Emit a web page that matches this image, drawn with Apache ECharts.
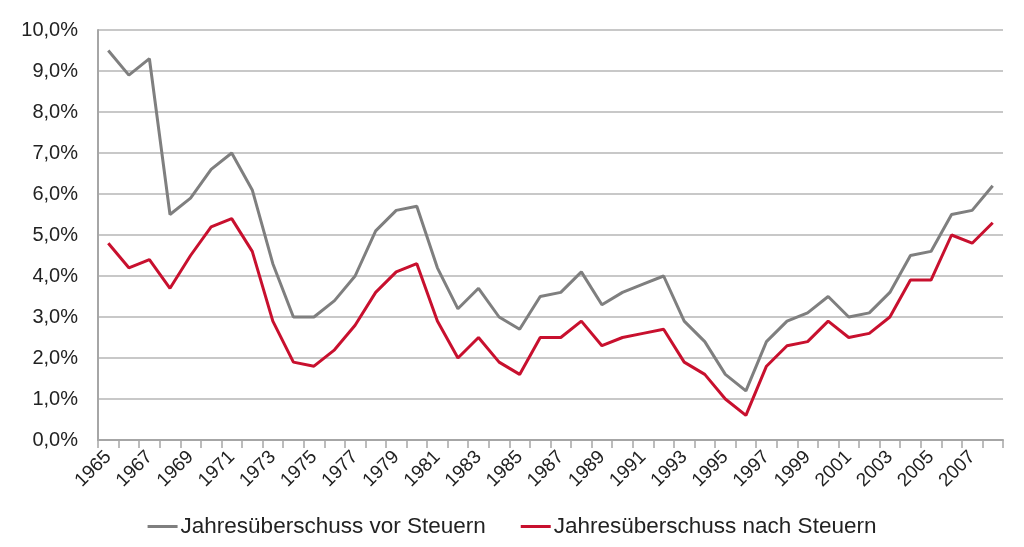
<!DOCTYPE html>
<html>
<head>
<meta charset="utf-8">
<script src="https://cdn.jsdelivr.net/npm/echarts@6/dist/echarts.min.js"></script>
<style>
  html, body { margin: 0; padding: 0; background: #fff; }
  #chart { width: 1024px; height: 547px; }
</style>
</head>
<body>
<div id="chart"></div>
<script>
const years = [];
for (let y = 1965; y <= 2008; y++) years.push(String(y));

const vorSteuern = [9.5, 8.9, 9.3, 5.5, 5.9, 6.6, 7.0, 6.1, 4.3, 3.0, 3.0, 3.4, 4.0, 5.1, 5.6, 5.7, 4.2, 3.2, 3.7, 3.0,
  2.7, 3.5, 3.6, 4.1, 3.3, 3.6, 3.8, 4.0, 2.9, 2.4, 1.6, 1.2, 2.4, 2.9, 3.1, 3.5, 3.0, 3.1, 3.6, 4.5, 4.6, 5.5, 5.6, 6.2];
const nachSteuern = [4.8, 4.2, 4.4, 3.7, 4.5, 5.2, 5.4, 4.6, 2.9, 1.9, 1.8, 2.2, 2.8, 3.6, 4.1, 4.3, 2.9, 2.0, 2.5, 1.9,
  1.6, 2.5, 2.5, 2.9, 2.3, 2.5, 2.6, 2.7, 1.9, 1.6, 1.0, 0.6, 1.8, 2.3, 2.4, 2.9, 2.5, 2.6, 3.0, 3.9, 3.9, 5.0, 4.8, 5.3];

const seriesNames = ['Jahresüberschuss vor Steuern', 'Jahresüberschuss nach Steuern'];

const font = 'Liberation Sans, Arial, sans-serif';
const chart = echarts.init(document.getElementById('chart'));

chart.setOption({
  animation: false,
  backgroundColor: '#fff',
  grid: { left: 98, right: 21, top: 30, bottom: 107 },
  legend: {
    bottom: 4,
    left: 'center',
    itemWidth: 30,
    itemHeight: 3,
    itemGap: 35,
    icon: 'rect',
    textStyle: { fontFamily: font, fontSize: 22.5, color: '#222', padding: [0, 0, 0, -2] },
    data: seriesNames
  },
  xAxis: {
    type: 'category',
    data: years,
    boundaryGap: true,
    axisLine: { lineStyle: { color: '#a6a6a6', width: 2 } },
    axisTick: { show: true, interval: 0, length: 8, lineStyle: { color: '#a6a6a6', width: 1.5 } },
    axisLabel: {
      interval: 1,
      rotate: 45,
      margin: 14,
      fontFamily: font,
      fontSize: 19,
      color: '#222'
    }
  },
  yAxis: {
    type: 'value',
    min: 0,
    max: 10,
    interval: 1,
    axisLine: { show: true, lineStyle: { color: '#a6a6a6', width: 2 } },
    axisTick: { show: false },
    splitLine: { lineStyle: { color: '#c8c8c8', width: 2 } },
    axisLabel: {
      margin: 20,
      fontFamily: font,
      fontSize: 20,
      color: '#222',
      formatter: v => v.toFixed(1).replace('.', ',') + '%'
    }
  },
  series: [
    {
      name: seriesNames[0],
      type: 'line',
      data: vorSteuern,
      symbol: 'none',
      lineStyle: { color: '#7f7f7f', width: 3 },
      itemStyle: { color: '#7f7f7f' }
    },
    {
      name: seriesNames[1],
      type: 'line',
      data: nachSteuern,
      symbol: 'none',
      lineStyle: { color: '#c8102e', width: 3 },
      itemStyle: { color: '#c8102e' }
    }
  ]
});
</script>
</body>
</html>
